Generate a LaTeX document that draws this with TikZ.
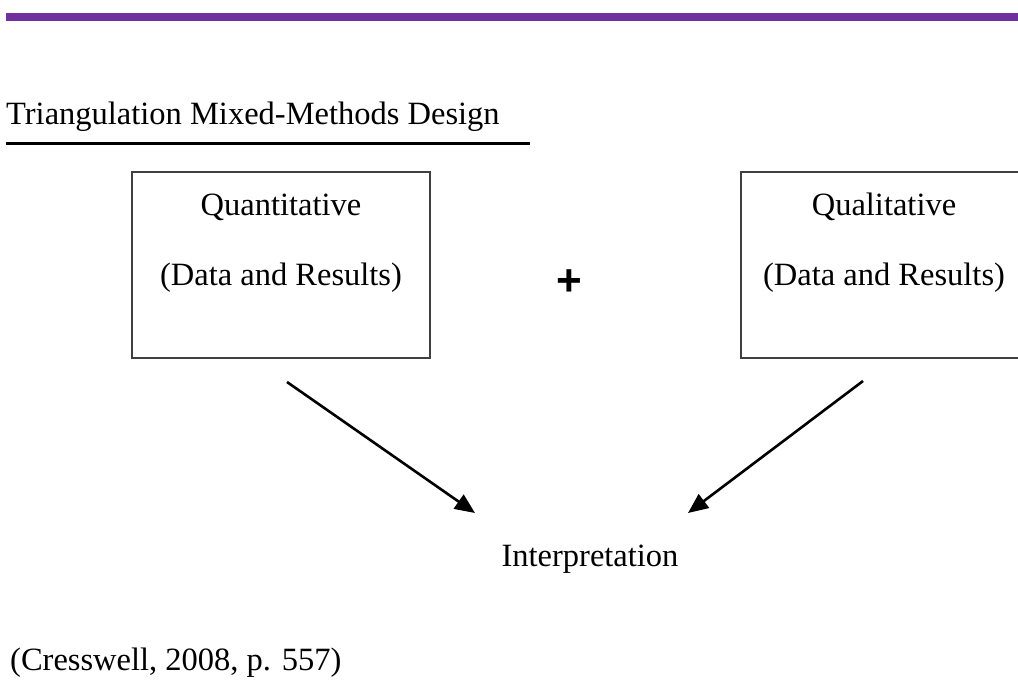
\documentclass[tikz,border=0pt]{standalone}
\usepackage{fontspec}
\setmainfont{Liberation Serif}
\newfontfamily\plusfont{Liberation Sans}
\usetikzlibrary{arrows.meta}
\definecolor{barpurple}{HTML}{7030A0}
\definecolor{boxgray}{HTML}{404040}
\tikzset{
  lbl/.style={font=\fontsize{32.5}{39}\selectfont, inner sep=0pt, anchor=base},
  boxframe/.style={draw=boxgray, line width=1.6pt},
  arr/.style={line width=2.6pt, -{Triangle[length=20pt,width=17pt]}}
}
\begin{document}
\begin{tikzpicture}[x=1pt,y=-1pt]
\useasboundingbox (0,0) rectangle (1018,681);
\fill[barpurple] (6,13) rectangle (1018,21);
\node[lbl, anchor=base west] (title) at (6,124) {Triangulation Mixed-Methods Design};
\draw[line width=3pt] (6,143) coordinate (ulA) -- (530,143) coordinate (ulB);
\begin{scope}
\clip (0,0) rectangle (1018,681);
\draw[boxframe] (132,172) rectangle (430,358);
\draw[boxframe] (741,172) rectangle (1040,358);
\end{scope}
\node[lbl] (qn1) at (281,215) {Quantitative};
\node[lbl] (qn2) at (281,285) {(Data and Results)};
\node[lbl] (ql1) at (884,215) {Qualitative};
\node[lbl] (ql2) at (884,285) {(Data and Results)};
\node[font=\plusfont\bfseries\fontsize{44}{50}\selectfont, inner sep=0pt] (plus) at (569,283) {+};
\node[lbl] (interp) at (590,566) {Interpretation};
\coordinate (a1s) at (287,382);
\coordinate (a1e) at (475,513);
\coordinate (a2s) at (863,381);
\coordinate (a2e) at (688,513);
\draw[arr] (a1s) -- (a1e);
\draw[arr] (a2s) -- (a2e);
\node[lbl, anchor=base west] (cite) at (10,670) {(Cresswell, 2008, p. 557)};
\end{tikzpicture}
\end{document}
